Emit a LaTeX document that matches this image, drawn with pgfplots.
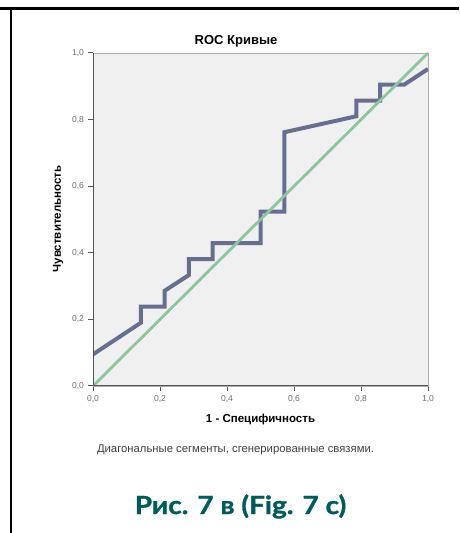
\documentclass[border=0pt]{standalone}
\usepackage{fontspec}
\setmainfont{Liberation Sans}
\newfontfamily\capfont[BoldFeatures={FakeBold=1.2}]{Lato}
\usepackage{pgfplots}
\pgfplotsset{compat=1.18}
\definecolor{bgray}{RGB}{240,240,240}
\definecolor{roc}{RGB}{104,110,146}
\definecolor{refg}{RGB}{140,198,158}
\definecolor{teal7}{RGB}{0,92,92}
\definecolor{axg}{RGB}{85,85,85}
\begin{document}
\begin{tikzpicture}[x=1pt,y=1pt]
\path[use as bounding box] (0,0) rectangle (459,533);
% frame
\draw[line width=2.6pt,black] (0,524.5) -- (459,524.5);
\draw[line width=2.4pt,black] (11.2,525.8) -- (11.2,0);
\begin{axis}[
  at={(93pt,147pt)}, anchor=south west,
  scale only axis, width=335pt, height=333pt,
  xmin=0, xmax=1, ymin=0, ymax=1,
  axis background/.style={fill=bgray},
  axis line style={draw=gray!65, line width=0.6pt},
  xtick={0,0.2,0.4,0.6,0.8,1}, ytick={0,0.2,0.4,0.6,0.8,1},
  xtick pos=bottom, ytick pos=left,
  tick align=outside, major tick length=5pt,
  tick style={draw=axg, line width=1pt},
  /pgf/number format/.cd, fixed, fixed zerofill, precision=1, use comma, assume math mode=true,
  /pgfplots/.cd,
  ticklabel style={font=\fontsize{8.5}{10}\selectfont, text=gray!85!black},
  xticklabel style={yshift=-1pt},
  yticklabel style={xshift=-0.5pt},
]
\addplot[roc, line width=4pt, line join=miter] coordinates {
(0,0.095) (0.143,0.190) (0.143,0.238) (0.214,0.238) (0.214,0.286) (0.286,0.333)
(0.286,0.381) (0.357,0.381) (0.357,0.429) (0.5,0.429) (0.5,0.524) (0.571,0.524)
(0.571,0.762) (0.786,0.810) (0.786,0.857) (0.857,0.857) (0.857,0.905) (0.929,0.905)
(1,0.952)};
\addplot[refg, line width=2.8pt] coordinates {(0,0) (1,1)};
\draw[axg, line width=1.3pt] (rel axis cs:0,1) -- (rel axis cs:0,0) -- (rel axis cs:1,0);
\end{axis}
\node[anchor=base, font=\fontsize{13}{15}\selectfont\bfseries] at (236,488) {ROC Кривые};
\node[anchor=base, font=\fontsize{11.5}{13}\selectfont\bfseries] at (260.5,110) {1 - Специфичность};
\node[rotate=90, font=\fontsize{11.5}{13}\selectfont\bfseries] at (58,314) {Чувствительность};
\node[anchor=base, font=\fontsize{11.3}{13}\selectfont, text=black!75] at (235.5,80) {Диагональные сегменты, сгенерированные связями.};
\node[anchor=base, text=teal7] at (240.5,19) {\scalebox{1.12}[1]{\capfont\fontsize{25}{28}\selectfont\bfseries Рис. 7 в (Fig. 7 c)}};
\end{tikzpicture}
\end{document}
